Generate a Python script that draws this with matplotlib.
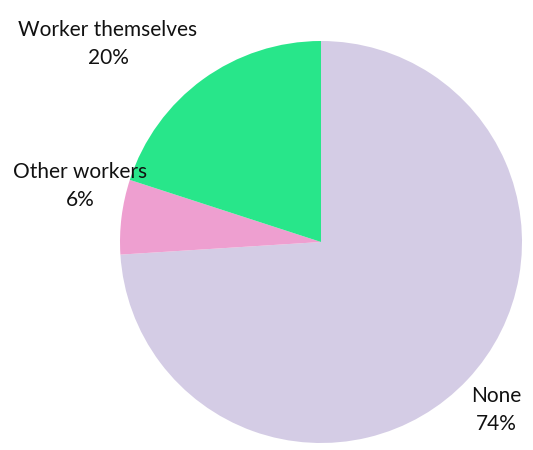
import matplotlib.pyplot as plt

labels = ['None', 'Other workers', 'Worker themselves']
shares = [74, 6, 20]
colors = ['#D4CCE5', '#EE9FD0', '#28E68A']

# label centres in pixel space (x right, y down)
label_pos = [(496, 410), (80, 186), (108, 44)]

plt.rcParams['font.family'] = ['Lato', 'DejaVu Sans']

fig = plt.figure(figsize=(5.33, 4.5), dpi=100)
ax = fig.add_axes([0, 0, 1, 1])

ax.pie(shares, colors=colors, startangle=90, counterclock=False,
       center=(321, 450 - 242), radius=201, frame=True,
       wedgeprops={'linewidth': 0})
ax.set_xlim(0, 533)
ax.set_ylim(0, 450)
ax.set_aspect('equal')
ax.axis('off')

for name, val, (x, y) in zip(labels, shares, label_pos):
    ax.text(x, 450 - y, f'{name}\n{val}%', ha='center', va='center',
            fontsize=15, color='#111111', linespacing=1.45)

fig.savefig('out.png', dpi=100)
